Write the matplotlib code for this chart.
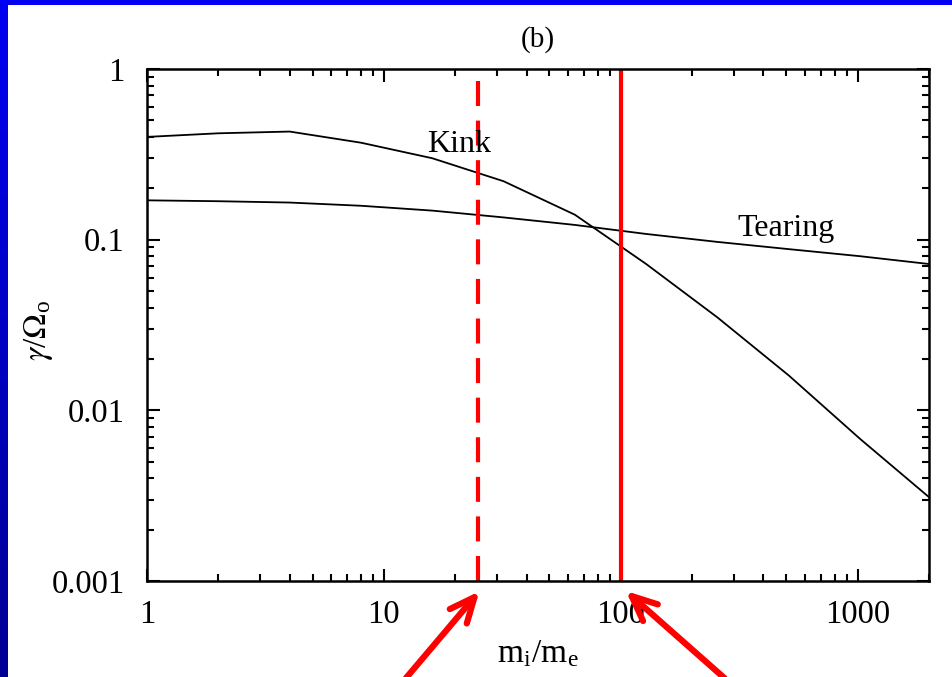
import matplotlib
matplotlib.use("Agg")
import matplotlib.pyplot as plt
import numpy as np

# growth rates vs mass ratio
mass_ratio = [1, 2, 4, 8, 16, 32, 64, 128, 256, 512, 1024, 2000]
kink = [0.40, 0.42, 0.43, 0.37, 0.30, 0.22, 0.14, 0.072, 0.035, 0.016, 0.0068, 0.0031]
tearing = [0.170, 0.168, 0.165, 0.158, 0.148, 0.135, 0.122, 0.108, 0.097, 0.088, 0.080, 0.072]

marked_ratios = [25, 100]
marked_styles = ['--', '-']

plt.rcParams['font.family'] = ['Liberation Serif', 'DejaVu Serif']
plt.rcParams['mathtext.fontset'] = 'stix'

fig = plt.figure(figsize=(9.52, 6.77), dpi=100)

# blue slide frame (left strip with gradient, top strip)
strip = fig.add_axes([0, 0, 8 / 952, 1])
grad = np.linspace(0, 1, 256)[:, None]
blue_cmap = matplotlib.colors.LinearSegmentedColormap.from_list(
    'slide', [(0, 0, 0.95), (0, 0, 0.58)])
strip.imshow(grad, aspect='auto', cmap=blue_cmap, extent=[0, 1, 0, 1])
strip.axis('off')
fig.add_artist(plt.Rectangle((0, 1 - 5 / 677), 1, 5 / 677,
                             transform=fig.transFigure, color=(0, 0, 0.95), lw=0))

ax = fig.add_axes([147 / 952, 1 - 581 / 677, 782 / 952, 512 / 677])
ax.set_xscale('log')
ax.set_yscale('log')

ax.plot(mass_ratio, kink, color='black', lw=1.3)
ax.plot(mass_ratio, tearing, color='black', lw=1.3)

for xv, ls in zip(marked_ratios, marked_styles):
    ax.axvline(xv, color='red', lw=3, ls=ls, dashes=(6, 3.5) if ls == '--' else (None, None))

ax.text(20.7, 0.36, 'Kink', fontsize=23, ha='center', va='center')
ax.text(497, 0.117, 'Tearing', fontsize=23, ha='center', va='center')

ax.set_xlim(1, 2000)
ax.set_ylim(0.001, 1)
ax.set_xticks([1, 10, 100, 1000])
ax.set_xticklabels(['1', '10', '100', '1000'])
ax.set_yticks([0.001, 0.01, 0.1, 1])
ax.set_yticklabels(['0.001', '0.01', '0.1', '1'])
ax.tick_params(which='both', direction='in', top=True, right=True,
               labelsize=23.5, width=1.5)
ax.tick_params(which='major', length=9)
ax.tick_params(which='minor', length=5)
ax.tick_params(axis='x', which='major', pad=13)
ax.tick_params(axis='y', which='major', pad=16)
for sp in ax.spines.values():
    sp.set_linewidth(1.8)

ax.set_title('(b)', fontsize=21, pad=16)
ax.set_xlabel(r'm$_\mathregular{i}$/m$_\mathregular{e}$', fontsize=24, labelpad=7)
ax.set_ylabel(r'$\gamma$/$\Omega_\mathregular{o}$', fontsize=24)
ax.yaxis.set_label_coords(-0.118, 0.49)

# arrows pointing at the two marked mass ratios
tails = [(-77, -91), (103, -91)]
for xv, (dx, dy) in zip(marked_ratios, tails):
    ax.annotate('', xy=(xv * 1.03, -0.016), xycoords=ax.get_xaxis_transform(),
                xytext=(dx, dy), textcoords='offset pixels',
                arrowprops=dict(arrowstyle='->,head_length=0.9,head_width=0.4',
                                mutation_scale=20, color='red', lw=4.5),
                annotation_clip=False)

fig.savefig('out.png', dpi=100)
